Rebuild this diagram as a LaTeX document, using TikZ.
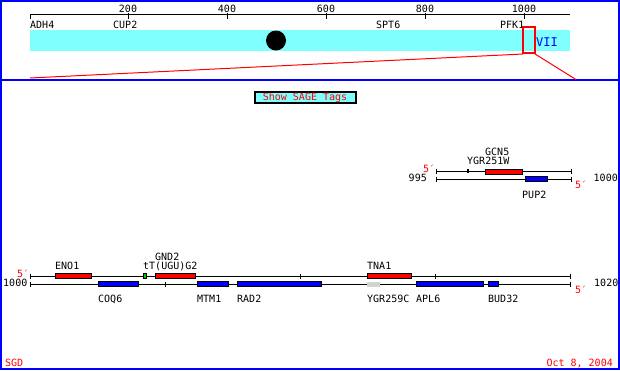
\documentclass[tikz,border=0pt]{standalone}
\usepackage{fontspec}
\newfontfamily\pxfont{DejaVu Sans Mono}
\definecolor{sgdcyan}{RGB}{128,255,255}
\definecolor{sgdblue}{RGB}{0,0,255}
\definecolor{sgdred}{RGB}{255,0,0}
\definecolor{sgdgray}{RGB}{211,211,211}
\definecolor{sgdgreen}{RGB}{0,200,0}
\begin{document}
\begin{tikzpicture}[x=1pt,y=-1pt,
  lbl/.style={font=\pxfont\fontsize{10}{10}\selectfont, inner sep=0pt, anchor=base west},
  lble/.style={lbl, anchor=base east},
  lblc/.style={lbl, anchor=base},
  redlbl/.style={lbl, text=sgdred},
  strand/.style={line width=1pt, black},
  endtick/.style={line width=1pt, black},
  midtick/.style={line width=1pt, black},
  wgene/.style={draw=black, line width=0.8pt, fill=sgdred},
  cgene/.style={draw=black, line width=0.8pt, fill=sgdblue},
]
\useasboundingbox (0,0) rectangle (620,370);
% frame and divider
\draw[sgdblue, line width=2pt] (1,1) rectangle (619,368.5);
\draw[sgdblue, line width=2pt] (0,80) -- (620,80);

% ---- chromosome overview ----
\coordinate (rl) at (30,14);
\coordinate (rr) at (570,14);
\draw[strand] (rl) -- (rr);
\draw[endtick] (30,14) -- (30,18.5);
\foreach \v/\x in {200/128,400/227,600/326,800/425,1000/524}{
  \draw[endtick] (\x,13) -- (\x,18.5);
  \node[lblc] (n\v) at (\x,12) {\v};
}
\node[lbl] (adh4) at (30,28) {ADH4};
\node[lbl] (cup2) at (113,28) {CUP2};
\node[lbl] (spt6) at (376,28) {SPT6};
\node[lbl] (pfk1) at (500,28) {PFK1};
\fill[sgdcyan] (30,30) rectangle (570,51);
\fill[black] (276,40.5) circle (10);
\node[lbl, text=sgdblue, font=\pxfont\fontsize{12}{12}\selectfont] (vii) at (536,46) {VII};
\draw[sgdred, line width=2pt] (523,27) rectangle (535,53);
\coordinate (zl) at (523,54);
\coordinate (zr) at (535,54);
\draw[sgdred, line width=1pt] (30,78) -- (zl);
\draw[sgdred, line width=1pt] (zr) -- (576,79.5);

% ---- button ----
\draw[black, line width=1.5pt, fill=sgdcyan] (255,92) rectangle (356,103);
\node[lblc, text=sgdred] (sage) at (305,100) {Show SAGE Tags};

% ---- upper small map ----
\node[redlbl] (u5a) at (423,172) {5′};
\node[lble] (u995) at (427,181) {995};
\draw[strand] (436,171) -- (571,171);
\draw[endtick] (436,168.5) -- (436,173.5);
\draw[endtick] (571,168.5) -- (571,173.5);
\draw[line width=1.6pt] (468,169) -- (468,173);
\draw[wgene] (485,169) rectangle (522,174);
\draw[strand] (436,179) -- (571,179);
\draw[endtick] (436,176.5) -- (436,181.5);
\draw[endtick] (571,176.5) -- (571,181.5);
\draw[cgene] (525,176.5) rectangle (547,181.5);
\node[redlbl] (u5b) at (575,188) {5′};
\node[lbl] (u1000) at (593.5,181) {1000};
\node[lbl] (gcn5) at (485,155) {GCN5};
\node[lbl] (ygr251w) at (467,164) {YGR251W};
\node[lbl] (pup2) at (522,198) {PUP2};

% ---- lower map ----
\node[redlbl] (l5a) at (17,277.5) {5′};
\node[lble] (l1000) at (27.5,286) {1000};
\draw[strand] (30,276) -- (570,276);
\draw[endtick] (30,273.5) -- (30,278.5);
\draw[endtick] (570,273.5) -- (570,278.5);
\draw[midtick] (300,273.5) -- (300,278.5);
\draw[midtick] (435,273.5) -- (435,278.5);
\draw[wgene] (55,273.5) rectangle (91,278.5);
\draw[wgene] (155,273.5) rectangle (195,278.5);
\draw[wgene] (367,273.5) rectangle (411,278.5);
\draw[draw=black, line width=0.6pt, fill=sgdgreen] (143.5,273.5) rectangle (146,278.5);
\draw[strand] (30,284) -- (570,284);
\draw[endtick] (30,281.5) -- (30,286.5);
\draw[endtick] (570,281.5) -- (570,286.5);
\draw[midtick] (165,281.5) -- (165,286.5);
\fill[sgdgray] (367,281.5) rectangle (380,286.5);
\draw[cgene] (98,281.5) rectangle (138,286.5);
\draw[cgene] (197,281.5) rectangle (228,286.5);
\draw[cgene] (237,281.5) rectangle (321,286.5);
\draw[cgene] (416,281.5) rectangle (483,286.5);
\draw[cgene] (488,281.5) rectangle (498,286.5);
\node[redlbl] (l5b) at (575,293) {5′};
\node[lbl] (l1020) at (594,286) {1020};
\node[lbl] (eno1) at (55,269) {ENO1};
\node[lbl] (gnd2) at (155,260) {GND2};
\node[lbl] (tt) at (143,269) {tT(UGU)G2};
\node[lbl] (tna1) at (367,269) {TNA1};
\node[lbl] (coq6) at (98,302) {COQ6};
\node[lbl] (mtm1) at (197,302) {MTM1};
\node[lbl] (rad2) at (237,302) {RAD2};
\node[lbl] (ygr259c) at (367,302) {YGR259C};
\node[lbl] (apl6) at (416,302) {APL6};
\node[lbl] (bud32) at (488,302) {BUD32};

% ---- footer ----
\node[redlbl] (sgd) at (5,366) {SGD};
\node[lble, text=sgdred] (date) at (613,366) {Oct 8, 2004};
\end{tikzpicture}
\end{document}
